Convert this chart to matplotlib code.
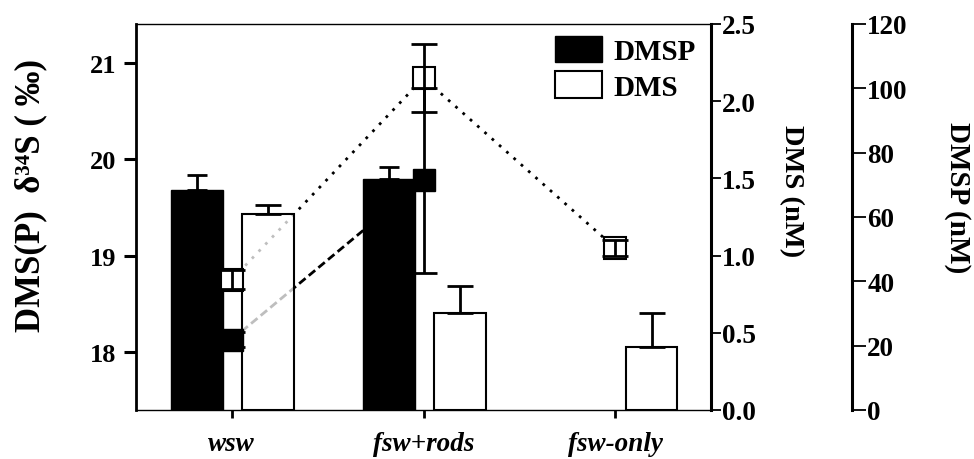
import numpy as np
import matplotlib
matplotlib.use("Agg")
import matplotlib.pyplot as plt
from matplotlib.patches import Patch

# values
categories = ["wsw", "fsw+rods", "fsw-only"]
dmsp_nm = [68.4, 71.8, np.nan]          # DMSP concentration (nM), black bars
dmsp_nm_err = [4.6, 3.7, np.nan]
dms_nm = [1.27, 0.63, 0.41]             # DMS concentration (nM), white bars
dms_nm_err = [0.06, 0.17, 0.22]
d34s_dmsp = [18.13, 19.78, np.nan]      # delta34S of DMSP (permil), black squares
d34s_dmsp_err = [0.08, 0.96, np.nan]
d34s_dms = [18.75, 20.84, 19.08]        # delta34S of DMS (permil), white squares
d34s_dms_err = [0.10, 0.35, 0.08]

plt.rcParams["font.family"] = ["Liberation Serif", "DejaVu Serif"]
plt.rcParams["font.weight"] = "bold"

W, H = 974, 460
fig = plt.figure(figsize=(W / 100, H / 100), dpi=100, facecolor="white")
ax_iso = fig.add_axes([136 / W, 1 - 411 / H, 575 / W, 386 / H])
ax_dms = ax_iso.twinx()
ax_dmsp = ax_iso.twinx()
ax_dmsp.set_zorder(1)
ax_dms.set_zorder(2)
ax_iso.set_zorder(3)
ax_iso.patch.set_visible(False)

x = np.arange(len(categories))
dmsp_nm = np.array(dmsp_nm)
dmsp_nm_err = np.array(dmsp_nm_err)
ok = ~np.isnan(dmsp_nm)

# connecting lines go in the bottom axes so the bars sit over them
ax_dmsp.plot(x, d34s_dms, ls=(0, (1, 2.5)), lw=2, color="black",
             transform=ax_iso.transData, zorder=1)
ax_dmsp.plot(x, d34s_dmsp, ls=(0, (3, 1.5)), lw=2, color="black",
             transform=ax_iso.transData, zorder=1)

# DMSP bars
ax_dmsp.bar(x[ok] - 0.18, dmsp_nm[ok], width=0.27, color="black",
            edgecolor="black", zorder=2)
ax_dmsp.errorbar(x[ok] - 0.18, dmsp_nm[ok],
                 yerr=[np.zeros(ok.sum()), dmsp_nm_err[ok]],
                 fmt="none", ecolor="black", elinewidth=2, capsize=7,
                 capthick=2, zorder=3)

# DMS bars
ax_dms.bar(x + 0.19, dms_nm, width=0.27, facecolor=(1, 1, 1, 0.75),
           edgecolor="black", linewidth=1.5, zorder=2)
ax_dms.errorbar(x + 0.19, dms_nm, yerr=[np.zeros(len(x)), dms_nm_err],
                fmt="none", ecolor="black", elinewidth=2, capsize=9.5,
                capthick=2, zorder=3)

# isotope markers
ax_iso.plot(x, d34s_dmsp, "s", ms=15.5, mfc="black", mec="black", zorder=3)
ax_iso.plot(x, d34s_dms, "s", ms=15.5, mfc="white", mec="black", mew=1.5,
            zorder=3)
ax_iso.errorbar(x, d34s_dmsp, yerr=d34s_dmsp_err, fmt="none", ecolor="black",
                elinewidth=2, capsize=9.5, capthick=2, zorder=4)
ax_iso.errorbar(x, d34s_dms, yerr=d34s_dms_err, fmt="none", ecolor="black",
                elinewidth=2, capsize=9.5, capthick=2, zorder=4)

# limits and ticks
ax_iso.set_xlim(-0.5, 2.5)
ax_iso.set_ylim(17.4, 21.4)
ax_iso.set_yticks([18, 19, 20, 21])
ax_iso.set_xticks(x)
ax_iso.set_xticklabels(categories, fontstyle="italic")
ax_dms.set_ylim(0, 2.5)
ax_dms.set_yticks(np.arange(0, 2.51, 0.5))
ax_dms.yaxis.set_major_formatter(plt.FormatStrFormatter("%.1f"))
ax_dmsp.set_ylim(0, 120)
ax_dmsp.set_yticks(np.arange(0, 121, 20))

ax_iso.tick_params(axis="y", direction="out", length=9, width=2.2,
                   labelsize=19, pad=5)
ax_iso.tick_params(axis="x", direction="out", length=6, width=2,
                   labelsize=19.5, pad=9)
ax_dms.tick_params(axis="y", direction="out", length=7, width=1.3,
                   labelsize=19.5, pad=1)
ax_dmsp.tick_params(axis="y", direction="out", length=10, width=1.3,
                    labelsize=19.5, pad=1)

# spines
for s in ["left", "top", "bottom", "right"]:
    ax_dms.spines[s].set_visible(s == "right")
    ax_dmsp.spines[s].set_visible(s == "right")
ax_iso.spines["right"].set_visible(False)
ax_iso.spines["left"].set_linewidth(2)
ax_iso.spines["top"].set_linewidth(1)
ax_iso.spines["bottom"].set_linewidth(1)
ax_dms.spines["right"].set_linewidth(2.2)
ax_dmsp.spines["right"].set_linewidth(2.2)
ax_dmsp.spines["right"].set_position(("axes", (852 - 136) / 575))

# axis titles
fig.text(31 / W, 1 - 195 / H, "DMS(P)  δ³⁴S ( ‰)", rotation=90,
         ha="center", va="center", fontsize=25)
fig.text(791 / W, 1 - 191 / H, "DMS (nM)", rotation=270,
         ha="center", va="center", fontsize=20.5)
fig.text(958 / W, 1 - 198 / H, "DMSP (nM)", rotation=270,
         ha="center", va="center", fontsize=21)

handles = [Patch(facecolor="black", edgecolor="black"),
           Patch(facecolor="white", edgecolor="black", linewidth=1.5)]
ax_iso.legend(handles, ["DMSP", "DMS"], loc="upper left",
              bbox_to_anchor=(555 / W, 1 - 37 / H),
              bbox_transform=fig.transFigure, frameon=False, fontsize=21,
              handlelength=1.6, handleheight=1.0, handletextpad=0.4,
              labelspacing=0.22, borderpad=0, borderaxespad=0)

fig.savefig("out.png", dpi=100)
